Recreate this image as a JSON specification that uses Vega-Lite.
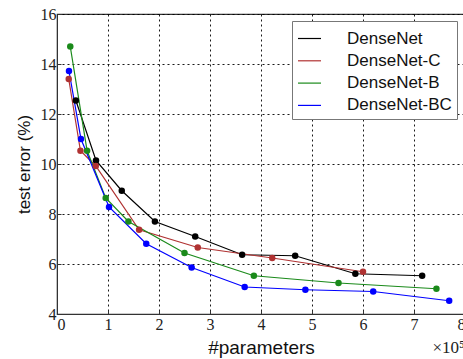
{
  "$schema": "https://vega.github.io/schema/vega-lite/v6.json",
  "autosize": "none",
  "width": 408,
  "height": 300,
  "padding": {"left": 57, "top": 14, "right": 0, "bottom": 45},
  "background": "white",
  "config": {
    "view": {"stroke": "#333", "strokeWidth": 1.2},
    "axis": {
      "labelFont": "Liberation Serif",
      "labelFontSize": 16,
      "labelColor": "#222",
      "titleFont": "Liberation Sans",
      "titleFontSize": 17,
      "titleFontWeight": "normal",
      "titleColor": "#111",
      "domainColor": "#333",
      "tickColor": "#333",
      "tickSize": -4,
      "gridColor": "#000",
      "gridDash": [2, 3],
      "gridOpacity": 0.9,
      "gridWidth": 1
    }
  },
  "datasets": {
    "series": [
      {"series": "DenseNet", "params": 0.37, "err": 12.54},
      {"series": "DenseNet", "params": 0.765, "err": 10.14},
      {"series": "DenseNet", "params": 1.27, "err": 8.93},
      {"series": "DenseNet", "params": 1.92, "err": 7.70},
      {"series": "DenseNet", "params": 2.71, "err": 7.10},
      {"series": "DenseNet", "params": 3.63, "err": 6.37},
      {"series": "DenseNet", "params": 4.67, "err": 6.33},
      {"series": "DenseNet", "params": 5.85, "err": 5.61},
      {"series": "DenseNet", "params": 7.16, "err": 5.53},
      {"series": "DenseNet-C", "params": 0.23, "err": 13.40},
      {"series": "DenseNet-C", "params": 0.46, "err": 10.53},
      {"series": "DenseNet-C", "params": 0.76, "err": 9.92},
      {"series": "DenseNet-C", "params": 1.61, "err": 7.37},
      {"series": "DenseNet-C", "params": 2.76, "err": 6.66},
      {"series": "DenseNet-C", "params": 4.22, "err": 6.24},
      {"series": "DenseNet-C", "params": 6.00, "err": 5.69},
      {"series": "DenseNet-B", "params": 0.26, "err": 14.70},
      {"series": "DenseNet-B", "params": 0.59, "err": 10.53},
      {"series": "DenseNet-B", "params": 0.955, "err": 8.64},
      {"series": "DenseNet-B", "params": 1.40, "err": 7.70},
      {"series": "DenseNet-B", "params": 2.50, "err": 6.44},
      {"series": "DenseNet-B", "params": 3.86, "err": 5.53},
      {"series": "DenseNet-B", "params": 5.52, "err": 5.24},
      {"series": "DenseNet-B", "params": 7.44, "err": 5.01},
      {"series": "DenseNet-BC", "params": 0.235, "err": 13.72},
      {"series": "DenseNet-BC", "params": 0.47, "err": 11.0},
      {"series": "DenseNet-BC", "params": 1.02, "err": 8.28},
      {"series": "DenseNet-BC", "params": 1.75, "err": 6.81},
      {"series": "DenseNet-BC", "params": 2.64, "err": 5.86},
      {"series": "DenseNet-BC", "params": 3.68, "err": 5.08},
      {"series": "DenseNet-BC", "params": 4.87, "err": 4.97},
      {"series": "DenseNet-BC", "params": 6.20, "err": 4.90},
      {"series": "DenseNet-BC", "params": 7.69, "err": 4.53}
    ]
  },
  "layer": [
    {
      "data": {"name": "series"},
      "mark": {"type": "line", "strokeWidth": 1.2},
      "encoding": {
        "x": {
          "field": "params",
          "type": "quantitative",
          "scale": {"domain": [0, 8], "nice": false, "zero": false},
          "axis": {"values": [0, 1, 2, 3, 4, 5, 6, 7, 8], "title": "#parameters", "titleFontSize": 19, "labelPadding": 6, "titlePadding": 6}
        },
        "y": {
          "field": "err",
          "type": "quantitative",
          "scale": {"domain": [4, 16], "nice": false, "zero": false},
          "axis": {"values": [4, 6, 8, 10, 12, 14, 16], "title": "test error (%)", "labelPadding": 5, "titlePadding": 7}
        },
        "color": {
          "field": "series",
          "type": "nominal",
          "scale": {
            "domain": ["DenseNet", "DenseNet-C", "DenseNet-B", "DenseNet-BC"],
            "range": ["#000000", "#b03232", "#1a8a1a", "#0000ff"]
          },
          "legend": {
            "title": null,
            "orient": "none",
            "legendX": 235,
            "legendY": 7,
            "fillColor": "white",
            "strokeColor": "#777",
            "padding": 5,
            "symbolType": "stroke",
            "symbolSize": 529,
            "symbolStrokeWidth": 1.2,
            "labelFont": "Liberation Sans",
            "labelFontSize": 17,
            "labelColor": "#111",
            "labelOffset": 25,
            "rowPadding": 1.3
          }
        }
      }
    },
    {
      "data": {"name": "series"},
      "mark": {"type": "point", "filled": true, "size": 42, "opacity": 1},
      "encoding": {
        "x": {"field": "params", "type": "quantitative"},
        "y": {"field": "err", "type": "quantitative"},
        "color": {"field": "series", "type": "nominal", "legend": null}
      }
    },
    {
      "data": {"values": [{"note": "×10⁵", "px": 8, "py": 4}]},
      "mark": {"type": "text", "font": "Liberation Serif", "fontSize": 17, "align": "right", "baseline": "alphabetic", "dx": 0, "dy": 39, "color": "#222"},
      "encoding": {
        "x": {"field": "px", "type": "quantitative"},
        "y": {"field": "py", "type": "quantitative"},
        "text": {"field": "note"}
      }
    }
  ]
}
